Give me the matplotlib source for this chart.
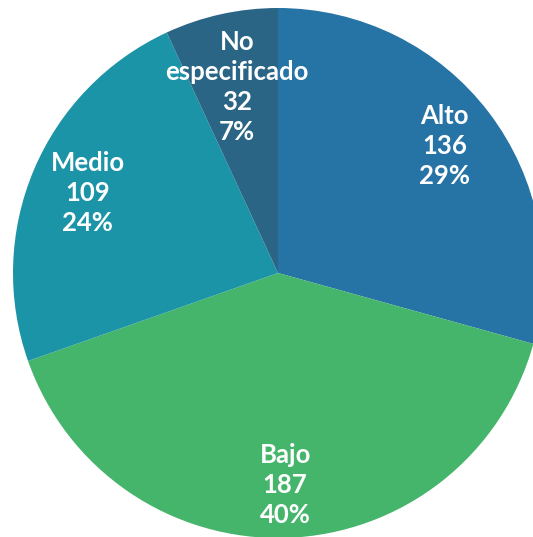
import numpy as np
import matplotlib
matplotlib.use("Agg")
import matplotlib.pyplot as plt

# data
categories = ["Alto", "Bajo", "Medio", "No\nespecificado"]
counts = [136, 187, 109, 32]
percent_labels = ["29%", "40%", "24%", "7%"]

colors = ["#2673a6", "#44b56b", "#1c94a7", "#2a6586"]
label_radius = [0.79, 0.80, 0.78, 0.72]

fig = plt.figure(figsize=(5.33, 5.37), dpi=100)
ax = fig.add_axes([0, 0, 1, 1])

wedges, _ = ax.pie(counts, colors=colors, startangle=90, counterclock=False,
                   radius=1, wedgeprops=dict(linewidth=0))

for w, name, n, pct, r in zip(wedges, categories, counts, percent_labels, label_radius):
    mid = np.deg2rad((w.theta1 + w.theta2) / 2)
    ax.text(r * np.cos(mid), r * np.sin(mid), f"{name}\n{n}\n{pct}",
            ha="center", va="center", color="white", fontsize=18.5,
            fontweight="bold", family="Lato", linespacing=1.3)

# the pie is slightly cropped on the right and bottom
ax.set_xlim(-278 / 265, (533 - 278) / 265)
ax.set_ylim(-(537 - 273) / 265, 273 / 265)
ax.set_aspect("auto")
ax.axis("off")

fig.savefig("out.png", dpi=100)
